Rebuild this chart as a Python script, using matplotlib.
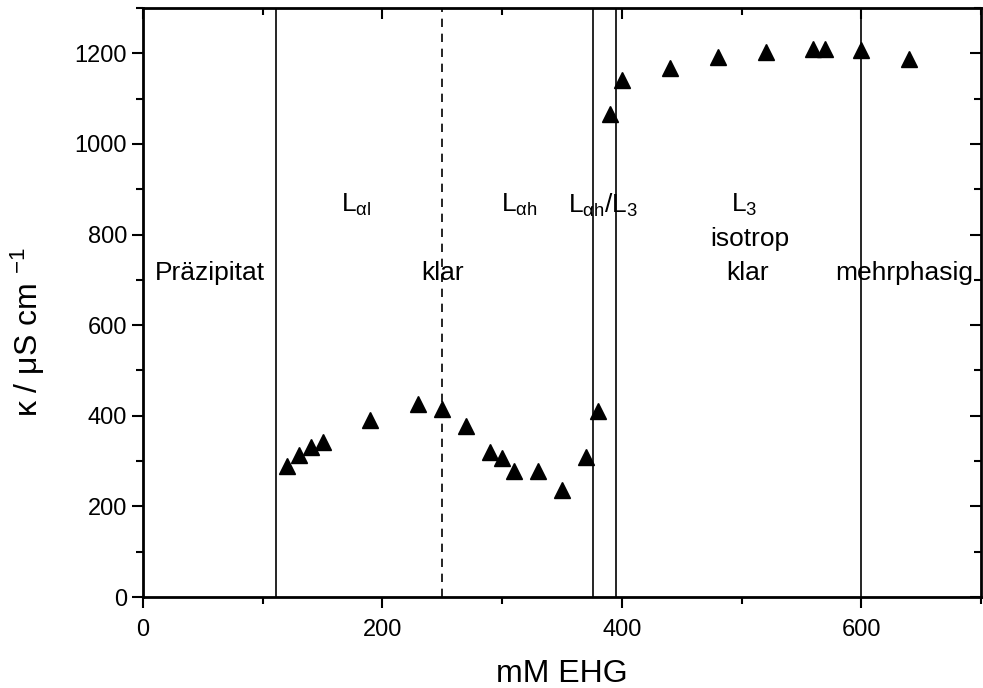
import matplotlib
matplotlib.use('Agg')
from matplotlib import pyplot

pyplot.rcParams['font.family'] = ['Liberation Sans', 'DejaVu Sans']
pyplot.rcParams['mathtext.fontset'] = 'custom'
pyplot.rcParams['mathtext.rm'] = 'Liberation Sans'
pyplot.rcParams['mathtext.it'] = 'Liberation Sans:italic'

# conductivity vs EHG concentration
conc = [120, 130, 140, 150, 190, 230, 250, 270, 290, 300, 310, 330, 350, 370, 380,
        390, 400, 440, 480, 520, 560, 570, 600, 640]
kappa = [290, 313, 330, 342, 390, 427, 414, 378, 320, 306, 278, 277, 236, 309, 411,
         1065, 1140, 1168, 1191, 1203, 1210, 1210, 1208, 1188]

# phase boundaries
bounds_solid = [111, 376, 395, 600]
bounds_dashed = [250]

# region labels: (x, y, text)
labels = [
    (56, 715, 'Präzipitat'),
    (250, 715, 'klar'),
    (178, 865, r'L$_{\mathrm{αl}}$'),
    (314, 865, r'L$_{\mathrm{αh}}$'),
    (384, 865, r'L$_{\mathrm{αh}}$/L$_{\mathrm{3}}$'),
    (502, 865, r'L$_{\mathrm{3}}$'),
    (507, 790, 'isotrop'),
    (505, 715, 'klar'),
    (636, 715, 'mehrphasig'),
]

fig = pyplot.figure(figsize=(9.83, 6.88), dpi=100)
ax = fig.add_axes([143/983, 91/688, 838/983, 589/688])

for xb in bounds_solid:
    ax.axvline(xb, color='black', lw=1.2)
for xb in bounds_dashed:
    ax.axvline(xb, color='black', lw=1.2, ls=(0, (5, 4)))

ax.plot(conc, kappa, ls='none', marker='^', ms=11, color='black', zorder=3)

for x, y, t in labels:
    ax.text(x, y, t, ha='center', va='center', fontsize=19)

ax.set_xlim(0, 700)
ax.set_ylim(0, 1300)
ax.set_xticks([0, 200, 400, 600])
ax.set_xticks([100, 300, 500, 700], minor=True)
ax.set_yticks(range(0, 1201, 200))
ax.set_yticks(range(100, 1301, 200), minor=True)

ax.tick_params(which='both', labelsize=17, width=1.5, direction='out')
ax.tick_params(which='major', length=8)
ax.tick_params(which='minor', length=5)
ax.tick_params(axis='x', which='both', pad=8)
ax.tick_params(top=True, right=True, which='both')
# ticks on top/right spines point inward
for t in ax.xaxis.get_major_ticks() + ax.xaxis.get_minor_ticks():
    t.tick2line.set_marker(3)
for t in ax.yaxis.get_major_ticks() + ax.yaxis.get_minor_ticks():
    t.tick2line.set_marker(0)

for sp in ax.spines.values():
    sp.set_linewidth(2)

ax.set_xlabel('mM EHG', fontsize=23)
ax.xaxis.set_label_coords(0.5, -0.105)
ax.set_ylabel(r'κ / μS cm $^{-1}$', fontsize=23)
ax.yaxis.set_label_coords(-0.115, 0.45)

fig.savefig('out.png', dpi=100)
